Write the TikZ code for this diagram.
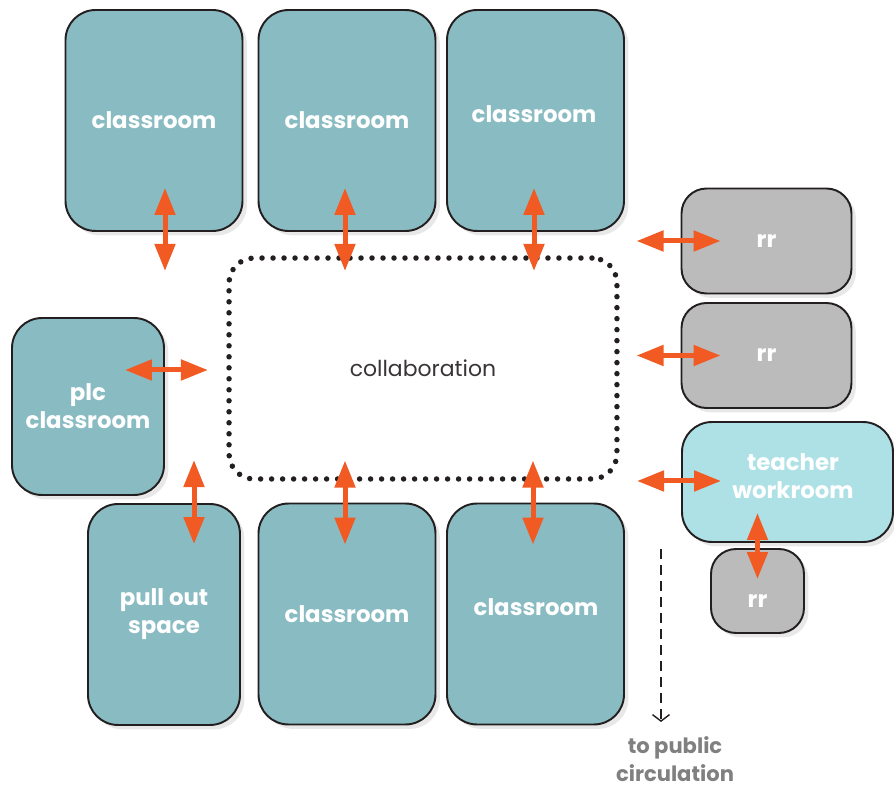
\documentclass[tikz,border=0pt]{standalone}
\usepackage{fontspec}
\setmainfont{Poppins}
\usetikzlibrary{arrows.meta}
\usetikzlibrary{shadows}
\usetikzlibrary{calc}
\definecolor{roomteal}{RGB}{137,188,194}
\definecolor{roomgray}{RGB}{187,187,187}
\definecolor{roomcyan}{RGB}{174,225,230}
\definecolor{linkorange}{RGB}{241,90,34}
\definecolor{edgeblack}{RGB}{35,31,32}
\definecolor{notegray}{RGB}{128,128,128}
\tikzset{room/.style={draw=edgeblack,line width=1.1pt,rounded corners=0.6cm,
   fill=roomteal,text=white,align=center,
   font=\bfseries\fontsize{13}{16}\selectfont,
   drop shadow={shadow xshift=2.5pt,shadow yshift=-2.5pt,opacity=0.18}},
 tall/.style={minimum width=3.54cm,minimum height=4.42cm},
 narrow/.style={minimum width=3.04cm},
 rest/.style={fill=roomgray,minimum width=3.4cm,minimum height=2.1cm,rounded corners=0.5cm},
 work/.style={fill=roomcyan,minimum width=4.22cm,minimum height=2.4cm},
 tag/.style={text=white,align=center,font=\bfseries\fontsize{13}{16}\selectfont},
 shared/.style={draw=edgeblack,line width=0.11cm,line cap=round,
   dash pattern=on 0pt off 0.22cm,rounded corners=0.5cm,
   minimum width=7.76cm,minimum height=4.42cm,
   font=\fontsize{12.5}{15}\selectfont,text=edgeblack!90},
 link/.style={draw=linkorange,line width=0.1cm,
   {Triangle[width=0.4cm,length=0.54cm]}-{Triangle[width=0.4cm,length=0.54cm]}},
 exit/.style={draw=edgeblack,line width=0.8pt,dash pattern=on 0.2cm off 0.12cm,
   -{Straight Barb[length=0.13cm,width=0.34cm]}},
 note/.style={text=notegray,align=center,font=\bfseries\fontsize{12}{16.4}\selectfont},
 }

\begin{document}
\begin{tikzpicture}[x=0.02cm,y=-0.02cm]
        \useasboundingbox (0,0) rectangle (894,787);
        \node[room,tall] (c1) at (154,120.5) {classroom};
        \node[room,tall] (c2) at (347,120.5) {classroom};
        \node[room,tall] (c3) at (535.5,120.5) {};
        \node[tag] (c3t) at (534,114) {classroom};
        \node[room,rest] (rr1) at (766.5,241) {rr};
        \node[room,rest] (rr2) at (766.5,355.5) {rr};
        \node[room,work] (tw) at (787.5,482) {};
        \node[tag] (twt) at (793,476) {teacher\\workroom};
        \node[room,rest,minimum width=1.86cm,minimum height=1.68cm] (rr3) at (757.5,591) {};
        \node[tag] (rr3t) at (757.5,601) {rr};
        \node[room,narrow,minimum height=3.54cm] (plc) at (88,406.5) {plc\\classroom};
        \node[room,narrow,minimum height=4.42cm] (po) at (164,614.5) {pull out\\space};
        \node[room,tall] (c4) at (347,614) {classroom};
        \node[room,tall] (c5) at (535.5,614) {};
        \node[tag] (c5t) at (536,607) {classroom};
        \node[shared] (col) at (423,368.5) {collaboration};
        \draw[link] ($(c1.south)+(11,39)$) -- ($(c1.south)+(11,-44)$);
        \draw[link] ($(c2.south)+(-2,39)$) -- ($(c2.south)+(-2,-44)$);
        \draw[link] ($(c3.south)+(-1.5,39)$) -- ($(c3.south)+(-1.5,-44)$);
        \draw[link] ($(rr1.west)+(-44,0)$) -- ($(rr1.west)+(40,0)$);
        \draw[link] ($(rr2.west)+(-44,0)$) -- ($(rr2.west)+(40,0)$);
        \draw[link] ($(tw.west)+(-44,-1)$) -- ($(tw.west)+(40,-1)$);
        \draw[link] ($(plc.east)+(-40,-36.5)$) -- ($(plc.east)+(43,-36.5)$);
        \draw[link] ($(po.north)+(30,-43)$) -- ($(po.north)+(30,41)$);
        \draw[link] ($(c4.north)+(-2,-42)$) -- ($(c4.north)+(-2,42)$);
        \draw[link] ($(c5.north)+(-2.5,-42)$) -- ($(c5.north)+(-2.5,42)$);
        \draw[link] ($(rr3.north)+(0,-35)$) -- ($(rr3.north)+(0,31)$);
        \coordinate (door) at (661,549);
        \coordinate (out) at (661,722);
        \draw[exit] (door) -- (out);
        \node[note,anchor=north] (pub) at ($(out)+(14,8)$) {to public\\circulation};
\end{tikzpicture}
\end{document}
